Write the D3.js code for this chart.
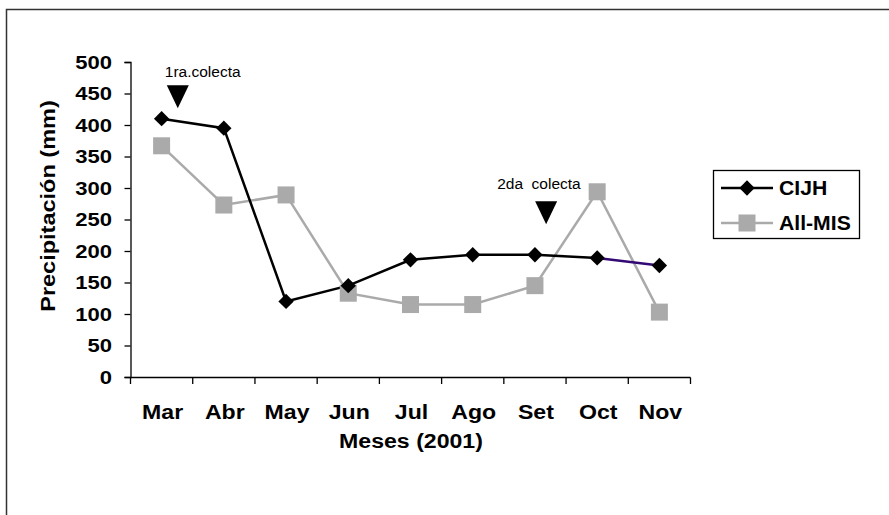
<!DOCTYPE html>
<html>
<head>
<meta charset="utf-8">
<script src="https://cdn.jsdelivr.net/npm/d3@7"></script>
<style>
  body { margin: 0; background: #fff; }
  text { font-family: "Liberation Sans", Arial, sans-serif; }
</style>
</head>
<body>
<svg id="chart"></svg>
<script>
var months = ["Mar", "Abr", "May", "Jun", "Jul", "Ago", "Set", "Oct", "Nov"]
var cijh = [410, 395, 120, 145, 186, 194, 194, 189, 177]
var allmis = [367, 273, 289, 133, 115, 115, 145, 294, 103]
var yTicks = [0, 50, 100, 150, 200, 250, 300, 350, 400, 450, 500]
// collection markers: label, month position (fractional), value at arrow top
var markLabels = ["1ra.colecta", "2da  colecta"]
var markPos = [0.26, 6.18]
var markVals = [463, 279]

var width = 889, height = 515
var svg = d3.select("#chart")
    .attr("width", width)
    .attr("height", height)

// the original's Arial is a bit wider, so text is stretched a little
function label(x, y, str, size, sx, rot) {
    return svg.append("text")
        .attr("transform", "translate(" + x + "," + y + ")" + (rot ? " rotate(" + rot + ")" : "") + " scale(" + sx + ",1)")
        .attr("text-anchor", "middle")
        .attr("font-size", size).attr("font-weight", "bold")
        .text(str)
}

// outer frame (runs off right/bottom like the original)
svg.append("rect")
    .attr("x", 6.5).attr("y", 9.5)
    .attr("width", 900).attr("height", 520)
    .attr("fill", "none")
    .attr("stroke", "#333")
    .attr("stroke-width", 1.5)

var x = d3.scaleBand().domain(months).range([130.5, 690.5]).padding(0)
var y = d3.scaleLinear().domain([0, 500]).range([377, 62])

// y axis
var yAxis = svg.append("g")
    .attr("transform", "translate(130.5,0)")
    .call(d3.axisLeft(y).tickValues(yTicks).tickSize(6).tickPadding(10))
yAxis.selectAll("path,line").attr("stroke", "#000").attr("stroke-width", 1.3)
yAxis.selectAll("text")
    .attr("font-size", 19).attr("font-weight", "bold").attr("fill", "#000")
    .attr("font-family", "Liberation Sans, Arial, sans-serif")
    .attr("transform", "scale(1.16,1)")

// x axis with ticks on category boundaries
svg.append("line")
    .attr("x1", 130.5).attr("x2", 690.5)
    .attr("y1", 377.5).attr("y2", 377.5)
    .attr("stroke", "#000").attr("stroke-width", 1.3)
var bounds = months.map(m => x(m)).concat([x.range()[1]])
svg.selectAll(".xtick").data(bounds).enter().append("line")
    .attr("x1", d => d).attr("x2", d => d)
    .attr("y1", 377.5).attr("y2", 384)
    .attr("stroke", "#000").attr("stroke-width", 1.3)
months.forEach(function (m) {
    label(x(m) + x.bandwidth() / 2 + 1, 419, m, 21, 1.1)
})

// axis titles
label(55, 206, "Precipitación (mm)", 21, 1.12, -90)
label(411, 448, "Meses (2001)", 21, 1.1)

var cx = i => x(months[i]) + x.bandwidth() / 2
var line = d3.line().x((d, i) => cx(i)).y(d => y(d))

// All-MIS series
svg.append("path").datum(allmis)
    .attr("d", line)
    .attr("fill", "none").attr("stroke", "#aaa").attr("stroke-width", 2.5)

// CIJH series (last segment drawn purple as in the original)
svg.append("path").datum(cijh.slice(0, 8))
    .attr("d", line)
    .attr("fill", "none").attr("stroke", "#000").attr("stroke-width", 2.5)
svg.append("line")
    .attr("x1", cx(7)).attr("y1", y(cijh[7]))
    .attr("x2", cx(8)).attr("y2", y(cijh[8]))
    .attr("stroke", "#330a73").attr("stroke-width", 2.5)

svg.selectAll(".sq").data(allmis).enter().append("rect")
    .attr("x", (d, i) => cx(i) - 8.5)
    .attr("y", d => y(d) - 8.5)
    .attr("width", 17).attr("height", 17)
    .attr("fill", "#aaa")

var diamond = d3.symbol().type(d3.symbolDiamond2).size(150)
svg.selectAll(".dm").data(cijh).enter().append("path")
    .attr("d", diamond)
    .attr("transform", (d, i) => "translate(" + cx(i) + "," + y(d) + ")")
    .attr("fill", "#000")

// collection annotations
var textDx = [-13, -49], textDy = [-8, -12]
markLabels.forEach(function (lab, i) {
    var px = x.range()[0] + x.step() * (markPos[i] + 0.5)
    var py = y(markVals[i])
    svg.append("path")
        .attr("d", "M" + (px - 11) + "," + py + "L" + (px + 11) + "," + py + "L" + px + "," + (py + 23) + "Z")
        .attr("fill", "#000")
    svg.append("text")
        .attr("x", px + textDx[i]).attr("y", py + textDy[i])
        .attr("font-size", 15.5)
        .style("white-space", "pre")
        .text(lab)
})

// legend
var lg = svg.append("g").attr("transform", "translate(713,170)")
lg.append("rect")
    .attr("x", 0.5).attr("y", 0.5).attr("width", 146).attr("height", 68)
    .attr("fill", "#fff").attr("stroke", "#000").attr("stroke-width", 1.3)
var names = ["CIJH", "All-MIS"]
names.forEach(function (nm, i) {
    var yy = 18 + i * 35
    lg.append("line")
        .attr("x1", 8).attr("x2", 60).attr("y1", yy).attr("y2", yy)
        .attr("stroke", i == 0 ? "#000" : "#aaa").attr("stroke-width", 2.5)
    if (i == 0) {
        lg.append("path").attr("d", diamond)
            .attr("transform", "translate(34," + yy + ")")
            .attr("fill", "#000")
    } else {
        lg.append("rect").attr("x", 34 - 8.5).attr("y", yy - 8.5)
            .attr("width", 17).attr("height", 17).attr("fill", "#aaa")
    }
    lg.append("text")
        .attr("transform", "translate(66," + (yy + 7) + ") scale(1.06,1)")
        .attr("font-size", 20).attr("font-weight", "bold")
        .text(nm)
})
</script>
</body>
</html>
